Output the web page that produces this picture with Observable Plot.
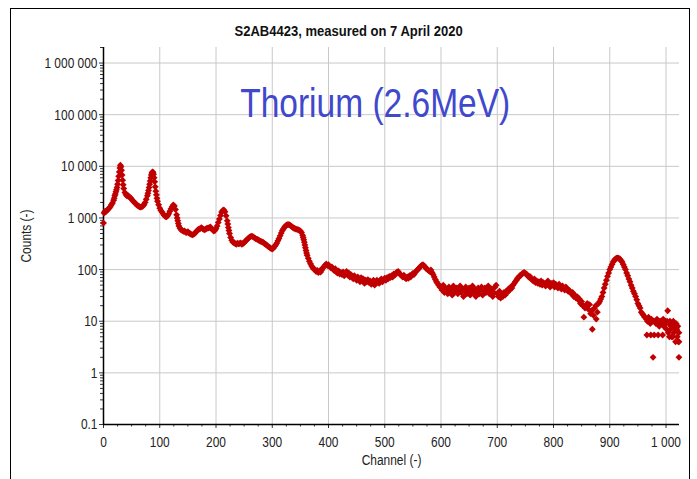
<!DOCTYPE html>
<html>
<head>
<meta charset="utf-8">
<script src="https://cdn.jsdelivr.net/npm/d3@7"></script>
<script src="https://cdn.jsdelivr.net/npm/@observablehq/plot@0.6"></script>
<style>
  html, body { margin: 0; padding: 0; background: #fff; overflow: hidden; }
  #frame { position: absolute; left: 10px; top: 8px; width: 680px; height: 500px; border: 1px solid #000; box-sizing: border-box; }
  #chart { position: absolute; left: 0; top: 0; width: 697px; }
  #title { height: 40px; position: relative; }
  #title span { position: absolute; left: 0; width: 697px; top: 23px; text-align: center;
    font: bold 14px "Liberation Sans", Arial, sans-serif; color: #111; line-height: 16px;
    transform: scaleX(0.93); transform-origin: 350px 0; }
</style>
</head>
<body>
<div id="frame"></div>
<div id="chart"><div id="title"><span id="titleText"></span></div></div>
<script>
// [channel, counts]
const segLowEnergy = [[0,800],[1,1250],[2,1300],[3,1350],[4,1320],[6,1400],[8,1450],[10,1550],[12,1650],[14,1800],[16,1950],[18,2200],[19,2400],[20,2700],[21,2900],[22,3200],[23,3500],[24,3900],[25,4500],[26,5300],[27,6400],[28,7800],[29,9300],[30,10500],[31,9800],[32,8400],[33,6800],[34,5400],[35,4400],[36,3700],[38,3100],[40,2800],[42,2650],[44,2700],[46,2550],[48,2450],[50,2300],[52,2150],[54,2050],[56,1950],[58,1850],[60,1750],[62,1700],[64,1650],[66,1620],[68,1650],[70,1700],[72,1800],[74,2000],[76,2300],[78,2700],[79,3000],[80,3400],[81,3900],[82,4500],[83,5200],[84,6000],[85,6800],[86,7400],[87,7800],[88,7700],[89,7000],[90,6000],[91,5000],[92,4000],[93,3300],[94,2800],[95,2400],[96,2100],[98,1800],[100,1550],[102,1400],[104,1300],[106,1200],[108,1120],[110,1070],[112,1050],[114,1100],[116,1200],[118,1350],[120,1500],[122,1650],[124,1780],[126,1700],[128,1450],[130,1150],[131,1000],[132,880],[133,780],[134,700],[136,630],[138,590]];
const segPb212 = [[140,570],[142,550],[144,560],[146,530],[148,520],[150,540],[152,510],[154,495],[156,480],[158,470],[160,480],[162,500],[164,530],[166,560],[168,590],[170,610],[172,620],[174,650],[176,620],[178,600],[180,590],[182,610],[184,630],[186,640],[188,650],[190,670],[192,620],[194,590],[196,560],[198,570],[200,620],[202,700],[204,820],[206,950],[208,1120],[210,1300],[212,1400],[214,1430],[216,1320],[218,1100],[220,880],[221,760],[222,650],[223,570],[224,500],[226,420],[228,370]];
const segMid = [[230,340],[232,330],[234,320],[236,310],[238,325],[240,315],[242,320],[244,330],[246,310],[248,320],[250,335],[252,350],[254,370],[256,390],[258,410],[260,425],[262,440],[264,445],[266,430],[268,415],[270,400],[272,390],[274,385],[276,370],[278,360],[280,350],[282,345],[284,335],[286,320],[288,310],[290,300],[292,285],[294,275],[296,265],[298,255],[300,250],[302,260],[304,280],[306,300],[308,325],[310,360],[312,400],[314,450],[316,510],[318,570],[320,620],[322,670],[324,710],[326,730],[328,745],[330,740],[332,720],[334,690],[336,660],[338,640],[340,625],[342,610],[344,600],[346,590],[348,575],[350,560],[352,520],[354,460],[355,420],[356,380],[357,340],[358,300],[359,265],[360,235],[361,210],[362,190],[364,165],[366,145],[368,130],[370,118],[372,108],[374,102]];
const segPlateau = [[376,100],[378,92],[380,96],[382,88],[384,94],[386,90],[388,98],[390,108],[392,114],[394,122],[396,128],[398,120],[400,124],[402,114],[404,108],[406,112],[408,102],[410,96],[412,104],[414,90],[416,86],[418,94],[420,82],[422,88],[424,80],[426,90],[428,76],[430,84],[432,92],[434,78],[436,86],[438,72],[440,80],[442,74],[444,66],[446,76],[448,68],[450,62],[452,72],[454,66],[456,58],[458,70],[460,62],[462,66],[464,54],[466,62],[468,58],[470,64],[472,56],[474,60],[476,52],[478,58],[480,62],[482,50],[484,56],[486,62],[488,58],[490,54],[492,62],[494,66],[496,58],[498,64],[500,68],[502,62],[504,70],[506,66],[508,74],[510,70],[512,76],[514,72],[516,82],[518,78],[520,86],[522,90],[524,92],[526,84],[528,80],[530,76],[532,72],[534,78],[536,70],[538,66],[540,72],[542,68],[544,76],[546,72],[548,80],[550,84],[552,80],[554,88],[556,94],[558,98],[560,104],[562,110],[564,116],[566,122],[568,124],[570,118],[572,112],[574,104],[576,100],[578,96],[580,92],[582,98],[584,88],[586,80],[588,72],[590,64],[592,58],[594,54],[596,50],[598,46]];
const segValley = [[600,46],[602,40],[604,50],[606,36],[608,44],[610,40],[612,34],[614,46],[616,38],[618,42],[620,32],[622,48],[624,36],[626,40],[628,44],[630,34],[632,38],[634,48],[636,36],[638,42],[640,30],[642,40],[644,46],[646,34],[648,38],[650,44],[652,32],[654,40],[656,48],[658,36],[660,42],[662,30],[664,38],[666,44],[668,34],[670,40],[672,46],[674,32],[676,38],[678,44],[680,36],[682,40],[684,48],[686,34],[688,38],[690,42],[692,30],[694,36],[696,46],[698,50],[700,34],[702,30],[704,38],[706,28],[708,34],[710,30],[712,36],[714,32],[716,38],[718,36],[720,42]];
const segHigh = [[722,40],[724,46],[726,44],[728,50],[730,54],[732,58],[734,62],[736,68],[738,70],[740,76],[742,78],[744,82],[746,86],[748,88],[750,84],[752,82],[754,76],[756,72],[758,74],[760,66],[762,64],[764,60],[766,66],[768,56],[770,60],[772,54],[774,58],[776,52],[778,60],[780,50],[782,56],[784,52],[786,48],[788,56],[790,60],[792,50],[794,46],[796,54],[798,50],[800,56],[802,46],[804,52],[806,48],[808,44],[810,52],[812,46],[814,42],[816,48],[818,44],[820,40],[822,46],[824,42],[826,38],[828,40],[830,36],[832,34],[834,36],[836,30],[838,32],[840,28],[842,30],[844,26],[846,27],[848,22],[850,24],[852,20],[854,12],[856,18],[858,20],[860,22],[862,17],[864,21],[866,14],[868,16],[869,7],[871,13],[873,18],[875,20],[876,11],[878,15],[880,22],[882,24],[884,27],[886,30],[888,36],[890,44],[892,52],[894,62],[896,74],[898,86],[900,100],[902,112],[904,126],[906,140],[908,152],[910,160],[912,166],[914,168],[916,166],[918,160],[920,150],[922,140],[924,125],[926,112],[928,100],[930,86],[932,76],[934,66],[936,58],[938,50],[940,44],[942,38],[944,34],[946,30],[948,26],[950,22],[952,20],[954,18],[956,15],[958,14],[960,13],[962,12],[965,11],[966,5.4],[967,10],[969,12],[972,9],[973,5.4],[974,11],[976,10],[977,2],[979,5.4],[980,10],[982,9],[984,11],[986,5.4],[987,9],[988,8],[990,10],[992,9],[994,5.4],[995,11],[996,8],[998,10],[1000,9],[1001,7],[1002,10],[1003,16],[1004,6],[1005,9],[1006,5],[1007,10],[1008,7],[1009,8],[1010,5],[1011,9],[1012,5],[1013,10],[1014,6],[1015,8],[1016,7],[1017,4],[1018,9],[1019,7],[1020,5],[1021,8],[1022,4],[1023,6],[1023,4],[1023,2]];

const xMajor = [0,100,200,300,400,500,600,700,800,900,1000];
const xMinor = [25,50,75,125,150,175,225,250,275,325,350,375,425,450,475,525,550,575,625,650,675,725,750,775,825,850,875,925,950,975];
const yMajor = [0.1,1,10,100,1000,10000,100000,1000000];
const yMinorMult = [2,3,4,5,6,7,8,9];
const annotation = [{ch: 483, count: 91000, label: "Thorium (2.6MeV)"}];
const titleText = "S2AB4423, measured on 7 April 2020";
const xLabel = "Channel (-)";
const yLabel = "Counts (-)";

document.getElementById("titleText").textContent = titleText;

const data = [].concat(segLowEnergy, segPb212, segMid, segPlateau, segValley, segHigh)
  .map(([c, n]) => ({ch: c, count: n}));
const yMinor = [];
yMajor.forEach(d => yMinorMult.forEach(m => { const v = d * m; if (v <= 2e6) yMinor.push(v); }));
const fmt = d3.formatLocale({decimal: ".", thousands: " ", grouping: [3], currency: ["", ""]}).format(",");
const font = '"Liberation Sans", Arial, sans-serif';

const plot = Plot.plot({
  width: 697,
  height: 439,
  marginLeft: 103,
  marginRight: 18,
  marginTop: 7,
  marginBottom: 55,
  style: {fontFamily: font, fontSize: "15.5px", color: "#222", background: "transparent", overflow: "visible"},
  x: {domain: [0, 1024]},
  y: {type: "log", domain: [0.1, 2e6]},
  marks: [
    Plot.gridX(xMajor.filter(d => d > 0), {stroke: "#c8c8c8", strokeOpacity: 1}),
    Plot.gridY(yMajor.filter(d => d > 0.1), {stroke: "#c8c8c8", strokeOpacity: 1}),
    Plot.axisX(xMinor, {tickSize: 2.5, fill: "none", stroke: "#333", label: null}),
    Plot.axisY(yMinor, {tickSize: 3, fill: "none", stroke: "#333", label: null}),
    Plot.axisX(xMajor, {tickSize: 4, tickPadding: 7, tickFormat: fmt, stroke: "#333", fill: "#222",
      label: xLabel, labelAnchor: "center", labelArrow: "none", labelOffset: 40}),
    Plot.axisY(yMajor, {tickSize: 4, tickPadding: 2, tickFormat: fmt, stroke: "#333", fill: "#222",
      label: yLabel, labelAnchor: "center", labelArrow: "none", labelOffset: 84}),
    Plot.ruleX([0], {stroke: "#000", strokeWidth: 1.5}),
    Plot.ruleY([0.1], {stroke: "#000", strokeWidth: 1.5}),
    Plot.text(annotation, {x: "ch", y: "count", text: "label", textAnchor: "middle", lineAnchor: "bottom",
      fill: "#4048cc", fontSize: 40, fontFamily: font}),
    Plot.dot(data, {x: "ch", y: "count", symbol: "diamond2", r: 3.1, fill: "#c00000", stroke: "none"})
  ]
});
document.getElementById("chart").appendChild(plot);

// condense glyphs horizontally to match the narrow typeface of the reference
plot.querySelectorAll("text").forEach(t => {
  const L = t.getComputedTextLength();
  if (!(L > 0)) return;
  const target = t.textContent === annotation[0].label ? 270 : L * 0.77;
  t.setAttribute("textLength", target);
  t.setAttribute("lengthAdjust", "spacingAndGlyphs");
});
</script>
</body>
</html>
